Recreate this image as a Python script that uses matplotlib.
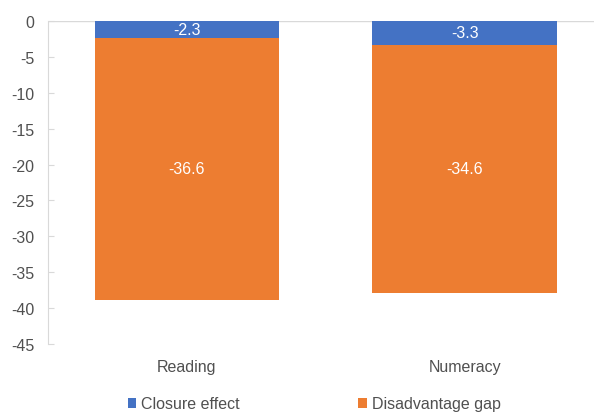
import matplotlib
matplotlib.use("Agg")
import matplotlib.pyplot as plt
import numpy as np

categories = ["Reading", "Numeracy"]
closure_effect = [-2.3, -3.3]
disadvantage_gap = [-36.6, -34.6]
series_names = ["Closure effect", "Disadvantage gap"]
yticks = [0, -5, -10, -15, -20, -25, -30, -35, -40, -45]

plt.rcParams['font.family'] = ['Liberation Sans', 'DejaVu Sans']
fs = 11.5

blue = "#4472C4"
orange = "#ED7D31"
grey = "#D9D9D9"
text_c = "#505050"

fig = plt.figure(figsize=(5.94, 4.14), dpi=100)
ax = fig.add_axes([48/594, 1-345/414, (603.5-48)/594, 323/414])

x = np.arange(len(categories))
w = 0.665
b1 = ax.bar(x, closure_effect, w, color=blue, label=series_names[0])
b2 = ax.bar(x, disadvantage_gap, w, bottom=closure_effect, color=orange, label=series_names[1])

for i in range(len(categories)):
    ax.text(x[i], closure_effect[i]/2, f"{closure_effect[i]:.1f}", ha='center', va='center',
            color='white', fontsize=fs)
    ax.text(x[i], closure_effect[i] + disadvantage_gap[i]/2, f"{disadvantage_gap[i]:.1f}",
            ha='center', va='center', color='white', fontsize=fs)

ax.set_xlim(-0.5, 1.5)
ax.set_ylim(-45, 0)
ax.set_yticks(yticks)
ax.set_yticklabels([str(t) for t in yticks])
ax.set_xticks(x)
ax.set_xticklabels(categories)
ax.axhline(0, color=grey, lw=1, zorder=0)
for s in ['top', 'right', 'bottom']:
    ax.spines[s].set_visible(False)
ax.spines['left'].set_color(grey)
ax.tick_params(axis='y', direction='in', length=4, color=grey, labelcolor=text_c, pad=10,
               labelsize=fs)
ax.tick_params(axis='x', length=0, labelcolor=text_c, pad=11, labelsize=fs)

fig.legend(handles=[b1, b2], labels=series_names, loc='center', bbox_to_anchor=(314/594, 1-405/414),
           ncol=2, frameon=False, handlelength=0.55, handleheight=0.55, handletextpad=0.3,
           columnspacing=7.4, fontsize=fs, labelcolor=text_c)

fig.savefig("out.png", dpi=100)
